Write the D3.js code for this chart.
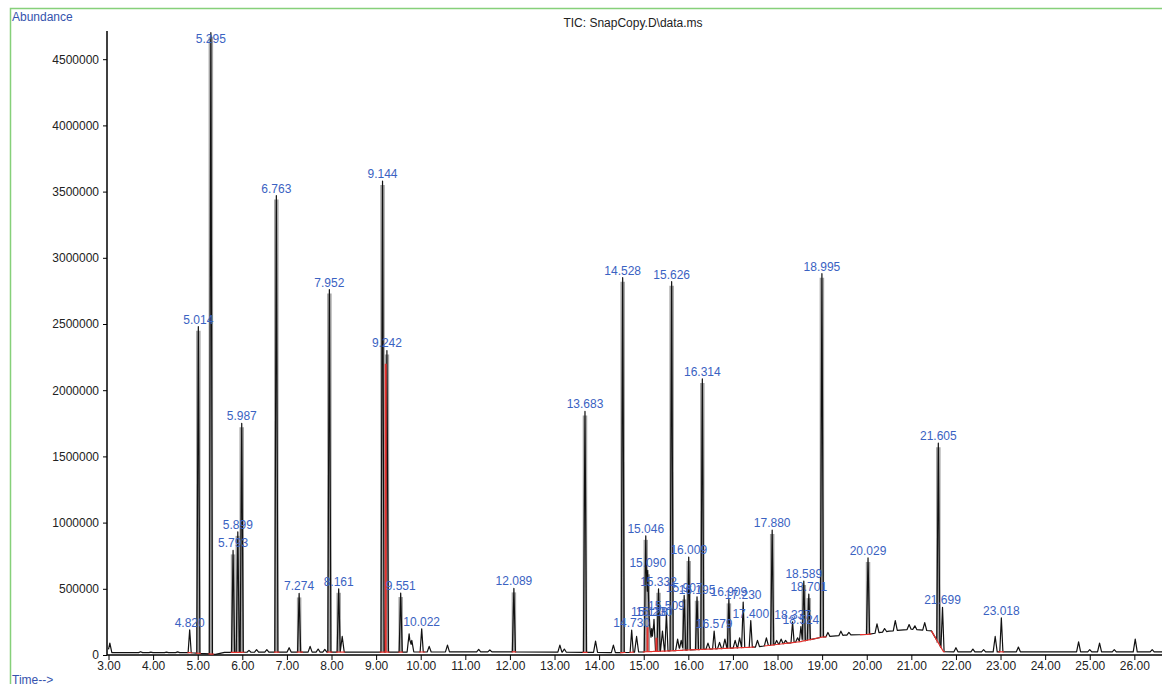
<!DOCTYPE html>
<html>
<head>
<meta charset="utf-8">
<script src="https://cdn.jsdelivr.net/npm/d3@7"></script>
<style>
  body { margin: 0; background: #fff; }
  text { font-family: Arial, "Liberation Sans", sans-serif; }
</style>
</head>
<body>
<div class="main"></div>
<script>
const w = 1162;
const h = 684;

// labelled peaks (retention time, apex abundance)
const peakTimes = [4.820, 5.014, 5.295, 5.793, 5.899, 5.987, 6.763, 7.274, 7.952, 8.161,
  9.144, 9.242, 9.551, 10.022, 12.089, 13.683, 14.528, 14.730, 15.046, 15.090,
  15.128, 15.230, 15.332, 15.509, 15.626, 15.907, 16.009, 16.195, 16.314, 16.579,
  16.909, 17.230, 17.400, 17.880, 18.337, 18.524, 18.589, 18.701, 18.995, 20.029,
  21.605, 21.699, 23.018];
const peakHeights = [190000, 2480000, 4700000, 790000, 930000, 1750000, 3470000, 465000, 2760000, 500000,
  3580000, 2300000, 468000, 198000, 503000, 1840000, 2850000, 188000, 900000, 640000,
  270000, 270000, 500000, 320000, 2820000, 450000, 740000, 440000, 2085000, 180000,
  420000, 400000, 260000, 944000, 250000, 215000, 559000, 460000, 2880000, 733000,
  1600000, 360000, 280000];

// small unlabelled peaks
const minorTimes = [3.03, 3.72, 3.95, 4.30, 4.55, 6.15, 6.32, 6.55, 7.05, 7.52, 7.70, 7.85, 8.24,
  9.74, 9.80, 10.19, 10.60, 11.30, 11.55, 13.12, 13.22, 13.92, 14.32, 14.84, 15.18, 15.42,
  15.76, 15.84, 16.44, 16.70, 16.82, 17.05, 17.15, 17.55, 17.75, 17.98, 18.08, 18.18, 18.45,
  19.13, 19.42, 19.60, 20.23, 20.40, 20.64, 20.95, 21.08, 21.30, 22.00, 22.38, 22.62, 22.88,
  23.40, 24.75, 25.00, 25.22, 25.55, 26.02, 26.40];
const minorHeights = [90000, 25000, 22000, 22000, 24000, 35000, 40000, 40000, 55000, 65000, 45000, 42000, 140000,
  160000, 110000, 65000, 75000, 42000, 38000, 75000, 45000, 105000, 75000, 140000, 200000, 180000,
  120000, 110000, 90000, 95000, 120000, 110000, 130000, 110000, 130000, 110000, 120000, 110000, 130000,
  170000, 180000, 170000, 235000, 200000, 260000, 230000, 220000, 245000, 55000, 45000, 40000, 140000,
  60000, 100000, 40000, 90000, 40000, 120000, 40000];

// baseline drift
const baseTimes = [3.0, 4.8, 5.4, 5.6, 7.0, 9.0, 12.0, 14.5, 15.5, 16.5, 17.5, 18.5, 19.0, 19.5, 20.0, 20.5, 21.0, 21.45, 21.72, 22.0, 26.62];
const baseLevels = [18000, 18000, 5000, 20000, 22000, 22000, 24000, 18000, 30000, 45000, 60000, 100000, 135000, 150000, 155000, 180000, 195000, 182000, 25000, 24000, 24000];

// integration baselines (red) and drop lines
const intStarts = [4.77, 4.96, 5.24, 5.74, 6.71, 7.22, 7.90, 8.10, 9.08, 9.50, 9.96, 12.04, 13.63, 14.47, 14.68, 14.98, 17.70, 19.85, 21.45, 22.95];
const intEnds = [4.88, 5.07, 5.36, 6.05, 6.83, 7.36, 8.02, 8.30, 9.30, 9.60, 10.10, 12.14, 13.74, 14.59, 14.78, 17.48, 19.10, 20.10, 21.75, 23.08];
const dropTimes = [9.215, 15.085, 15.285];
const dropTops = [2200000, 210000, 130000];

const yTicks = [0, 500000, 1000000, 1500000, 2000000, 2500000, 3000000, 3500000, 4000000, 4500000];
const xTicks = [3, 4, 5, 6, 7, 8, 9, 10, 11, 12, 13, 14, 15, 16, 17, 18, 19, 20, 21, 22, 23, 24, 25, 26];

const svg = d3.select('.main').append('svg').attr('width', w).attr('height', h);

const x = d3.scaleLinear().domain([3, 26.62]).range([108.5, 1162]);
const y = d3.scaleLinear().domain([0, 4713000]).range([655, 31]);

const baseAt = d3.scaleLinear().domain(baseTimes).range(baseLevels).clamp(true);

const peaks = peakTimes.map((t, i) => ({ t: t, v: peakHeights[i], hw: 0.035 }))
  .concat(minorTimes.map((t, i) => ({ t: t, v: minorHeights[i], hw: 0.045 })));

// key times of the trace: baseline knots, peak feet and apexes
let times = baseTimes.slice();
peaks.forEach(function (p) { times.push(p.t - p.hw, p.t, p.t + p.hw); });
times = Array.from(new Set(times)).filter(t => t >= 3 && t <= 26.62).sort((a, b) => a - b);

function traceAt(t) {
  const b = baseAt(t);
  let v = b;
  peaks.forEach(function (p) {
    const d = Math.abs(t - p.t);
    if (d < p.hw) v = Math.max(v, b + (p.v - b) * (1 - d / p.hw));
  });
  return v;
}
const trace = times.map(t => [t, traceAt(t)]);

// frame
svg.append('path')
  .attr('d', 'M10.5,' + h + 'V8.5H' + w)
  .attr('fill', 'none').attr('stroke', '#86d07a').attr('stroke-width', 1.5);

svg.append('text').attr('x', 12).attr('y', 21).attr('font-size', 12).attr('fill', '#3553ad').text('Abundance');
svg.append('text').attr('x', 633).attr('y', 27).attr('font-size', 12).attr('text-anchor', 'middle').attr('fill', '#222').text('TIC: SnapCopy.D\\data.ms');
svg.append('text').attr('x', 12).attr('y', 684).attr('font-size', 12).attr('fill', '#3553ad').text('Time-->');

// axes
const gy = svg.append('g').attr('transform', 'translate(107,0)');
gy.call(d3.axisLeft(y).tickValues(d3.range(0, 4700001, 100000)).tickSize(3).tickFormat(''));
gy.call(d3.axisLeft(y).tickValues(yTicks).tickSize(4).tickSizeOuter(0).tickFormat(d3.format('d')));
gy.select('.domain').attr('d', 'M0,' + y(0) + 'V31').attr('stroke-width', 1.5);
gy.selectAll('text').attr('font-size', 12).attr('font-family', 'Arial, sans-serif').attr('fill', '#222').attr('dx', -1);

const gx = svg.append('g').attr('transform', 'translate(0,655)');
gx.call(d3.axisBottom(x).tickValues(d3.range(3, 26.61, 0.2)).tickSize(4).tickFormat(''));
gx.call(d3.axisBottom(x).tickValues(xTicks).tickSize(5).tickSizeOuter(0).tickFormat(d3.format('.2f')));
gx.select('.domain').attr('d', 'M107,0H' + w).attr('stroke-width', 1.5);
gx.selectAll('text').attr('font-size', 12).attr('font-family', 'Arial, sans-serif').attr('fill', '#222').attr('dy', '0.6em');

// chromatogram: soft grey band behind the taller peaks, then the trace
const line = d3.line().x(d => x(d[0])).y(d => y(d[1]));

svg.selectAll('.band').data(peakTimes.filter((t, i) => peakHeights[i] > 400000)).enter().append('line')
  .attr('class', 'band')
  .attr('x1', d => x(d)).attr('x2', d => x(d))
  .attr('y1', d => y(baseAt(d)))
  .attr('y2', d => y(peakHeights[peakTimes.indexOf(d)]) + 4)
  .attr('stroke', '#a4a4a4').attr('stroke-width', 4.5);

svg.append('path').datum(trace).attr('d', line)
  .attr('fill', 'none').attr('stroke', '#111').attr('stroke-width', 1.2).attr('stroke-linejoin', 'round');

// integration baselines
intStarts.forEach(function (s, i) {
  const pts = times.filter(t => t > s && t < intEnds[i]);
  const seg = [s].concat(pts, [intEnds[i]]).map(t => [t, baseAt(t)]);
  svg.append('path').datum(seg).attr('d', line)
    .attr('fill', 'none').attr('stroke', '#e8322e').attr('stroke-width', 1.2);
});
svg.selectAll('.drop').data(dropTimes).enter().append('line')
  .attr('class', 'drop')
  .attr('x1', d => x(d)).attr('x2', d => x(d))
  .attr('y1', d => y(baseAt(d))).attr('y2', (d, i) => y(dropTops[i]))
  .attr('stroke', '#e8322e').attr('stroke-width', 2);

// peak labels
svg.selectAll('.plabel').data(peakTimes).enter().append('text')
  .attr('class', 'plabel')
  .attr('x', d => x(d))
  .attr('y', (d, i) => Math.max(y(peakHeights[i]) - 3, 43))
  .attr('text-anchor', 'middle')
  .attr('font-size', 12)
  .attr('fill', '#3a62c2')
  .text(d => d.toFixed(3));
</script>
</body>
</html>
